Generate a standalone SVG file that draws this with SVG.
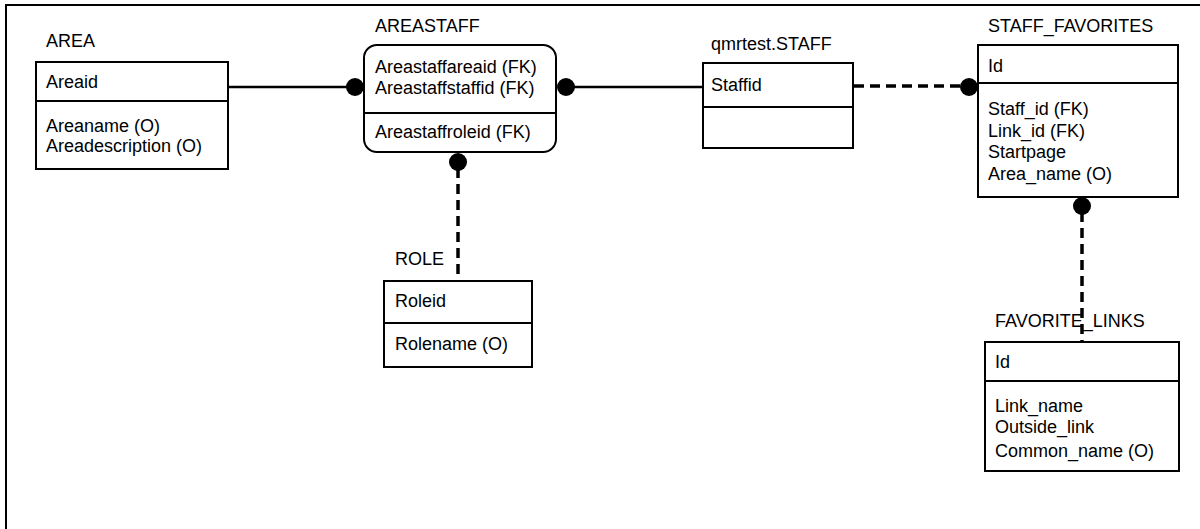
<svg xmlns="http://www.w3.org/2000/svg" width="1200" height="529" viewBox="0 0 1200 529">
<style>
text{font-family:"Liberation Sans",Arial,sans-serif;font-size:18px;fill:#000}
.box{fill:#fff;stroke:#000;stroke-width:2}
.div{stroke:#000;stroke-width:2}
.solid{stroke:#000;stroke-width:2.5;fill:none}
.dash{stroke:#000;stroke-width:3.5;fill:none;stroke-dasharray:10 6}
.dot{fill:#000}
</style>
<rect width="1200" height="529" fill="#fff"/>
<path d="M6,529 V5 H1200" fill="none" stroke="#000" stroke-width="2"/>
<g id="connectors">
<line class="solid" x1="228" y1="87" x2="355" y2="87"/>
<circle class="dot" cx="355" cy="87" r="9"/>
<line class="solid" x1="566" y1="87" x2="703" y2="87"/>
<circle class="dot" cx="566" cy="87" r="9"/>
<line class="dash" x1="458" y1="168" x2="458" y2="281"/>
<circle class="dot" cx="458" cy="162" r="9"/>
<line class="dash" x1="854" y1="86" x2="962" y2="86"/>
<circle class="dot" cx="969" cy="87" r="9"/>
<line class="dash" x1="1082" y1="212" x2="1082" y2="342"/>
<circle class="dot" cx="1082" cy="206" r="9"/>
</g>
<g id="area">
<text x="46" y="47">AREA</text>
<rect class="box" x="36" y="62" width="192" height="107"/>
<line class="div" x1="36" y1="101" x2="228" y2="101"/>
<text x="46" y="88">Areaid</text>
<text x="46" y="132">Areaname (O)</text>
<text x="46" y="152">Areadescription (O)</text>
</g>
<g id="areastaff">
<text x="375" y="32">AREASTAFF</text>
<rect class="box" x="364" y="45" width="192" height="107" rx="13" ry="13"/>
<line class="div" x1="364" y1="113" x2="556" y2="113"/>
<text x="375" y="73">Areastaffareaid (FK)</text>
<text x="375" y="94">Areastaffstaffid (FK)</text>
<text x="375" y="138">Areastaffroleid (FK)</text>
</g>
<g id="staff">
<text x="711" y="50">qmrtest.STAFF</text>
<rect class="box" x="703" y="63" width="150" height="85"/>
<line class="div" x1="703" y1="107" x2="853" y2="107"/>
<text x="711" y="91">Staffid</text>
</g>
<g id="staff_favorites">
<text x="988" y="32">STAFF_FAVORITES</text>
<rect class="box" x="978" y="45" width="200" height="152"/>
<line class="div" x1="978" y1="83" x2="1178" y2="83"/>
<text x="988" y="72">Id</text>
<text x="988" y="115">Staff_id (FK)</text>
<text x="988" y="137">Link_id (FK)</text>
<text x="988" y="158">Startpage</text>
<text x="988" y="180">Area_name (O)</text>
</g>
<g id="role">
<text x="395" y="265">ROLE</text>
<rect class="box" x="384" y="281" width="148" height="86"/>
<line class="div" x1="384" y1="323" x2="532" y2="323"/>
<text x="395" y="307">Roleid</text>
<text x="395" y="350">Rolename (O)</text>
</g>
<g id="favorite_links">
<text x="995" y="327">FAVORITE_LINKS</text>
<rect class="box" x="985" y="342" width="194" height="129"/>
<line class="div" x1="985" y1="381" x2="1179" y2="381"/>
<text x="995" y="368">Id</text>
<text x="995" y="412">Link_name</text>
<text x="995" y="433">Outside_link</text>
<text x="995" y="457">Common_name (O)</text>
</g>
</svg>
